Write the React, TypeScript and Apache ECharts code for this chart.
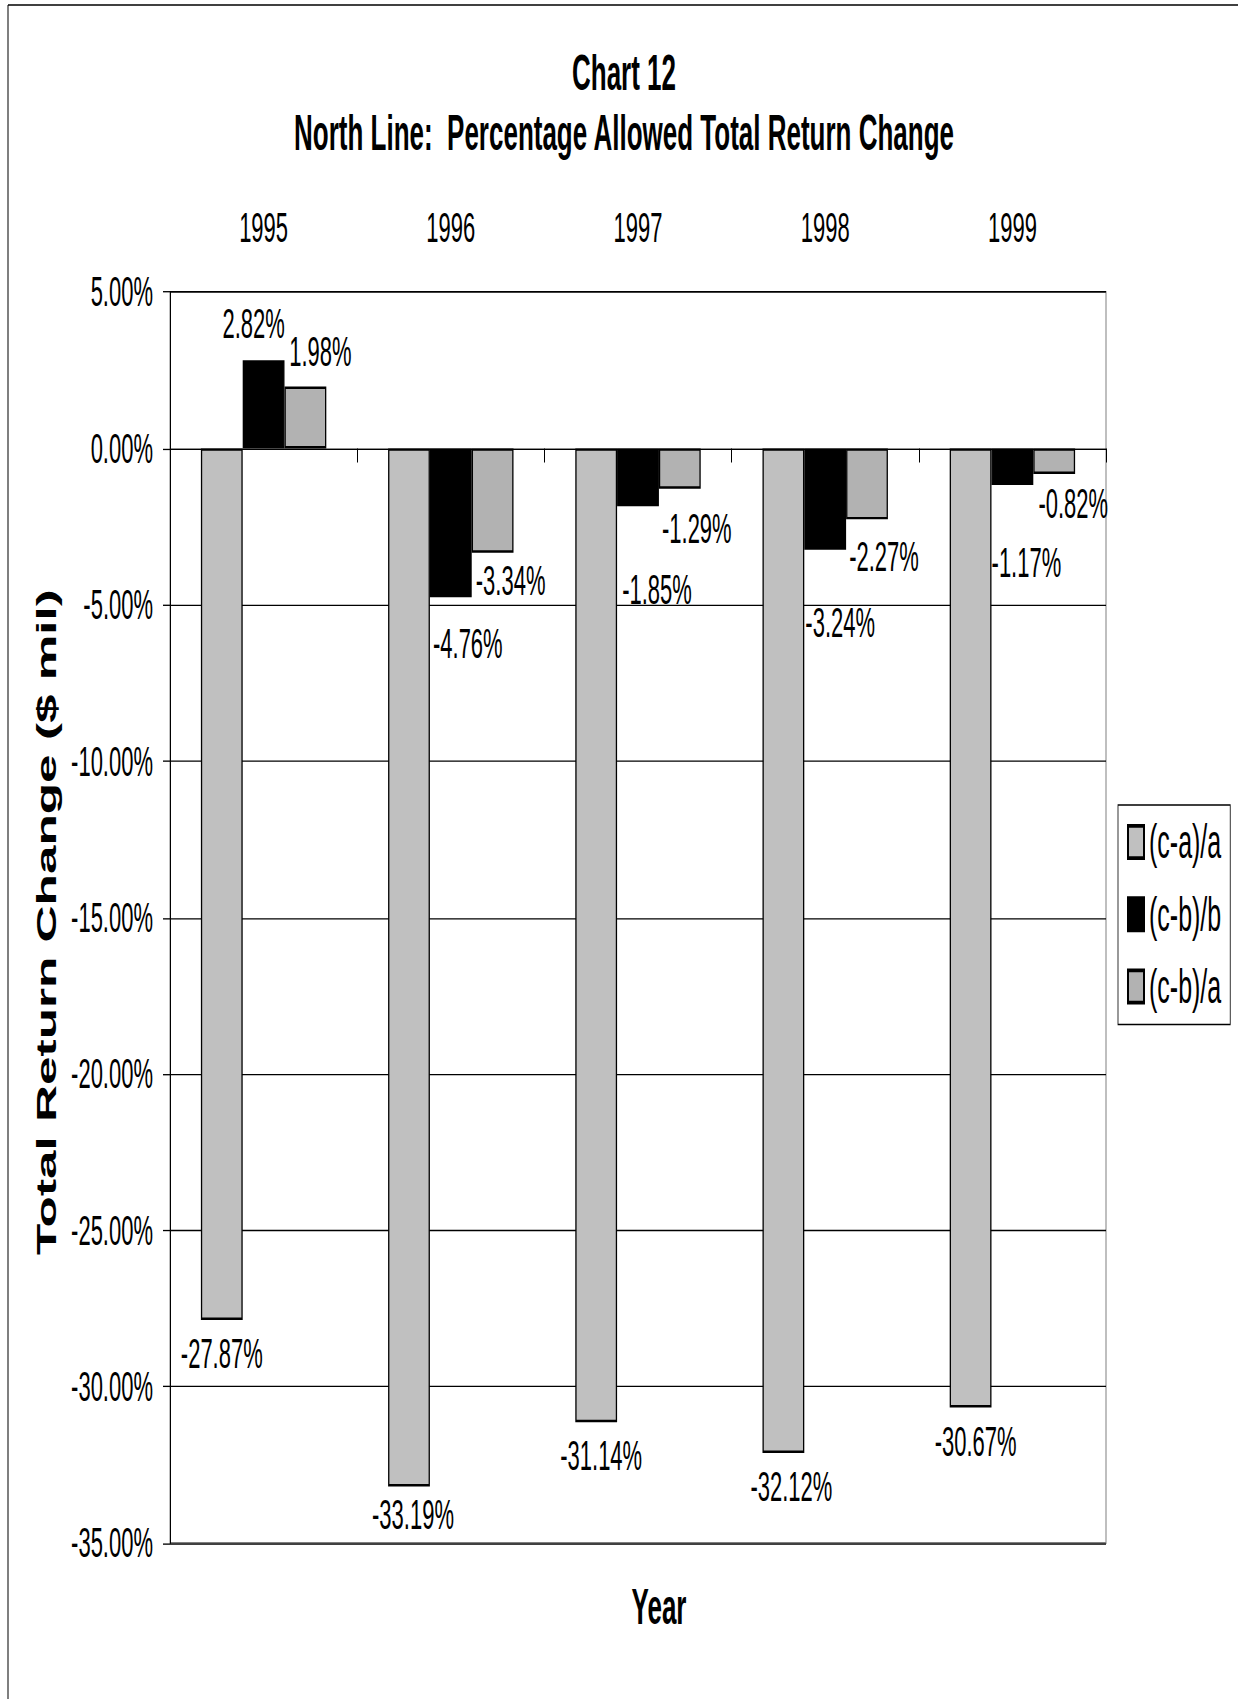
import React, { useEffect, useRef } from "react";
import * as echarts from "echarts";

// ---------- data ----------
const years = ["1995", "1996", "1997", "1998", "1999"];
const seriesNames = ["(c-a)/a", "(c-b)/b", "(c-b)/a"];
const caOverA = [-27.87, -33.19, -31.14, -32.12, -30.67];
const cbOverB = [2.82, -4.76, -1.85, -3.24, -1.17];
const cbOverA = [1.98, -3.34, -1.29, -2.27, -0.82];
const yMin = -35;
const yMax = 5;
const yStep = 5;

// ---------- layout (reference pixels) ----------
// The reference picture is stretched vertically; the chart is drawn at CH px tall and scaled by K.
const CH = 894;
const K = 1699 / CH;
const FONT = "'Liberation Sans', Arial, sans-serif";
// label nudges: [dx, distance from bar end to label centre] in reference pixels
const nudgeA = [[0, 34], [4, 28], [5, 33], [8, 34], [5, 34]];
const nudgeB = [[-10, 37], [17, 46], [19, 83], [15, 73], [14, 78]];
const nudgeC = [[15, 35], [18, 28], [17, 40], [17, 37], [19, 30]];
const seriesColors = ["#C0C0C0", "#000000", "#B2B2B2"];
const LABEL_SIZE = 22;

function buildData(values: number[], nudges: number[][]) {
  return values.map((v, i) => {
    const [dx, dy] = nudges[i];
    const off = dy / K - LABEL_SIZE / 2;
    return {
      value: v,
      label: {
        position: v >= 0 ? "top" : "bottom",
        distance: 0,
        offset: [dx, v >= 0 ? -off : off],
      },
    };
  });
}

export default function App() {
  const ref = useRef<HTMLDivElement>(null);
  useEffect(() => {
    if (!ref.current) return;
    const chart = echarts.init(ref.current, null, { renderer: "svg" });
    const allValues = [caOverA, cbOverB, cbOverA];
    const allNudges = [nudgeA, nudgeB, nudgeC];
    const option: any = {
      animation: false,
      backgroundColor: "#ffffff",
      textStyle: { fontFamily: FONT, color: "#000" },
      grid: {
        left: 170,
        right: 1238 - 1106,
        top: 292 / K,
        bottom: CH - 1543 / K,
        show: true,
        borderColor: "#808080",
        borderWidth: 1,
        backgroundColor: "transparent",
      },
      legend: {
        orient: "vertical",
        left: 1118,
        top: 805 / K,
        itemWidth: 16,
        itemHeight: 17,
        itemGap: 13,
        padding: [7, 9, 7.5, 9],
        borderColor: "#000",
        borderWidth: 0.8,
        icon: "rect",
        data: seriesNames,
        textStyle: { fontSize: 25, color: "#000", fontFamily: FONT },
      },
      xAxis: [
        {
          type: "category",
          data: years,
          position: "top",
          axisLine: { show: false, onZero: false },
          axisTick: { show: false },
          axisLabel: { fontSize: 22, color: "#000", margin: 23, fontFamily: FONT },
          splitLine: { show: false },
        },
        {
          type: "category",
          data: years,
          position: "bottom",
          axisLine: { show: true, onZero: true, onZeroAxisIndex: 0, lineStyle: { color: "#000", width: 0.7 } },
          axisTick: { show: true, length: 14 / K, lineStyle: { color: "#000", width: 1 } },
          axisLabel: { show: false },
          splitLine: { show: false },
        },
      ],
      yAxis: {
        type: "value",
        min: yMin,
        max: yMax,
        interval: yStep,
        axisLine: { show: true, lineStyle: { color: "#000", width: 1 } },
        axisTick: { show: true, length: 7, lineStyle: { color: "#000", width: 0.7 } },
        axisLabel: {
          fontSize: 22,
          color: "#000",
          margin: 17,
          fontFamily: FONT,
          formatter: (v: number) => v.toFixed(2) + "%",
        },
        splitLine: { show: true, lineStyle: { color: "#000", width: 0.7 } },
      },
      series: seriesNames.map((name, si) => ({
        name,
        type: "bar",
        xAxisIndex: 0,
        barGap: "0%",
        barCategoryGap: "33%",
        itemStyle: { color: seriesColors[si], borderColor: "#000", borderWidth: 1.3 },
        label: {
          show: true,
          color: "#000",
          fontSize: LABEL_SIZE,
          fontFamily: FONT,
          formatter: (p: any) => Number(p.value).toFixed(2) + "%",
        },
        data: buildData(allValues[si], allNudges[si]),
      })),
      graphic: [
        { type: "line", shape: { x1: 8, y1: 5 / K, x2: 1238, y2: 5 / K }, style: { stroke: "#000", lineWidth: 0.7 } },
        { type: "line", shape: { x1: 8, y1: 5 / K, x2: 8, y2: CH }, style: { stroke: "#000", lineWidth: 1 } },
        {
          type: "text",
          x: 624,
          y: 72 / K,
          style: { text: "Chart 12", fontSize: 26, fontWeight: "bold", fontFamily: FONT, fill: "#000", align: "center", verticalAlign: "middle" },
        },
        {
          type: "text",
          x: 624,
          y: 132 / K,
          style: {
            text: "North Line:  Percentage Allowed Total Return Change",
            fontSize: 26,
            fontWeight: "bold",
            fontFamily: FONT,
            fill: "#000",
            align: "center",
            verticalAlign: "middle",
          },
        },
        {
          type: "text",
          x: 659,
          y: 1606 / K,
          style: { text: "Year", fontSize: 26, fontWeight: "bold", fontFamily: FONT, fill: "#000", align: "center", verticalAlign: "middle" },
        },
        {
          type: "text",
          x: 46.5,
          y: 922 / K,
          rotation: Math.PI / 2,
          style: {
            text: "Total Return Change ($ mil)",
            fontSize: 27,
            fontWeight: "bold",
            fontFamily: FONT,
            fill: "#000",
            align: "center",
            verticalAlign: "middle",
          },
        },
      ],
    };
    chart.setOption(option);
    return () => chart.dispose();
  }, []);
  return (
    <div
      ref={ref}
      style={{
        position: "absolute",
        left: 0,
        top: 0,
        width: 1238,
        height: CH,
        transform: `scaleY(${K})`,
        transformOrigin: "0 0",
        background: "#fff",
      }}
    />
  );
}
